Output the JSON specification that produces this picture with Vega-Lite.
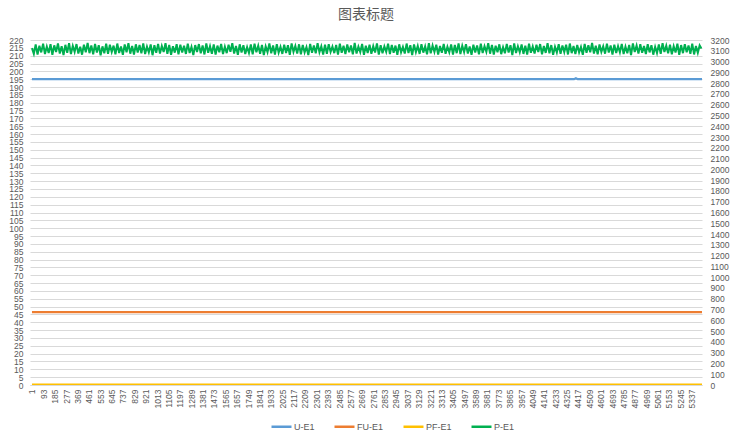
{
  "$schema": "https://vega.github.io/schema/vega-lite/v6.json",
  "width": 672,
  "height": 345,
  "autosize": {"type": "none"},
  "padding": {"left": 30, "top": 40, "right": 46, "bottom": 55},
  "background": "white",
  "title": {"text": "图表标题", "fontSize": 14, "font": "Noto Sans CJK SC", "fontWeight": "normal", "color": "#595959", "offset": 14},
  "config": {"view": {"stroke": null}, "font": "Liberation Sans"},
  "encoding": {
    "x": {"field": "i", "type": "quantitative", "scale": {"domain": [-15, 5420], "nice": false, "zero": false},
      "axis": {"values": [1,93,185,277,369,461,553,645,737,829,921,1013,1105,1197,1289,1381,1473,1565,1657,1749,1841,1933,2025,2117,2209,2301,2393,2485,2577,2669,2761,2853,2945,3037,3129,3221,3313,3405,3497,3589,3681,3773,3865,3957,4049,4141,4233,4325,4417,4509,4601,4693,4785,4877,4969,5061,5153,5245,5337], "title": null, "grid": false, "labelAngle": 270, "labelFontSize": 8.5, "labelColor": "#595959", "labelOverlap": false, "labelFlush": false, "labelPadding": 4, "ticks": false, "domainColor": "#d9d9d9", "format": "d"}}
  },
  "layer": [
    {
      "data": {"values": [
        {"i": 1, "U-E1": 195, "FU-E1": 46.5, "PF-E1": 0.3},
        {"i": 4385, "U-E1": 195, "FU-E1": 46.5, "PF-E1": 0.3},
        {"i": 4400, "U-E1": 195.6, "FU-E1": 46.5, "PF-E1": 0.3},
        {"i": 4415, "U-E1": 195, "FU-E1": 46.5, "PF-E1": 0.3},
        {"i": 5420, "U-E1": 195, "FU-E1": 46.5, "PF-E1": 0.3}
      ]},
      "transform": [{"fold": ["U-E1", "FU-E1", "PF-E1"]}],
      "mark": {"type": "line", "strokeWidth": 2.2, "clip": true},
      "encoding": {
        "y": {"field": "value", "type": "quantitative", "scale": {"domain": [0, 220], "nice": false},
          "axis": {"values": [0,5,10,15,20,25,30,35,40,45,50,55,60,65,70,75,80,85,90,95,100,105,110,115,120,125,130,135,140,145,150,155,160,165,170,175,180,185,190,195,200,205,210,215,220], "title": null, "domain": false, "ticks": false, "labelFontSize": 8.5, "labelColor": "#595959", "labelPadding": 7, "labelOverlap": false, "gridColor": "#d9d9d9", "labelFlush": false}},
        "color": {"field": "key", "type": "nominal",
          "scale": {"domain": ["U-E1", "FU-E1", "PF-E1", "P-E1"], "range": ["#5B9BD5", "#ED7D31", "#FFC000", "#00B050"]},
          "legend": {"title": null, "orient": "none", "legendX": 240, "legendY": 375, "direction": "horizontal", "columns": 4, "symbolType": "stroke", "symbolSize": 400, "symbolStrokeWidth": 2.5, "labelFontSize": 9, "labelColor": "#595959", "columnPadding": 14, "labelOffset": 1}}
      }
    },
    {
      "data": {"values": [
{"i":1,"P":3125},{"i":16,"P":3072},{"i":31,"P":3158},{"i":46,"P":3066},{"i":61,"P":3147},{"i":76,"P":3085},{"i":91,"P":3166},{"i":106,"P":3070},{"i":121,"P":3139},{"i":136,"P":3079},
{"i":151,"P":3161},{"i":166,"P":3063},{"i":181,"P":3150},{"i":196,"P":3088},{"i":211,"P":3168},{"i":226,"P":3075},{"i":241,"P":3143},{"i":256,"P":3060},{"i":271,"P":3155},{"i":286,"P":3082},
{"i":301,"P":3170},{"i":316,"P":3069},{"i":331,"P":3146},{"i":346,"P":3090},{"i":361,"P":3162},{"i":376,"P":3074},{"i":391,"P":3137},{"i":406,"P":3064},{"i":421,"P":3157},{"i":436,"P":3086},
{"i":451,"P":3172},{"i":466,"P":3078},{"i":481,"P":3149},{"i":496,"P":3067},{"i":511,"P":3163},{"i":526,"P":3083},{"i":541,"P":3152},{"i":556,"P":3058},{"i":571,"P":3141},{"i":586,"P":3076},
{"i":601,"P":3165},{"i":616,"P":3071},{"i":631,"P":3156},{"i":646,"P":3089},{"i":661,"P":3148},{"i":676,"P":3068},{"i":691,"P":3167},{"i":706,"P":3080},{"i":721,"P":3140},{"i":736,"P":3062},
{"i":751,"P":3159},{"i":766,"P":3087},{"i":781,"P":3171},{"i":796,"P":3073},{"i":811,"P":3145},{"i":826,"P":3065},{"i":841,"P":3160},{"i":856,"P":3084},{"i":871,"P":3153},{"i":886,"P":3077},
{"i":901,"P":3169},{"i":916,"P":3070},{"i":931,"P":3138},{"i":946,"P":3086},{"i":961,"P":3158},{"i":976,"P":3059},{"i":991,"P":3151},{"i":1006,"P":3081},{"i":1021,"P":3164},{"i":1036,"P":3074},
{"i":1051,"P":3144},{"i":1066,"P":3088},{"i":1081,"P":3170},{"i":1096,"P":3072},{"i":1111,"P":3154},{"i":1126,"P":3063},{"i":1141,"P":3142},{"i":1156,"P":3083},{"i":1171,"P":3161},{"i":1186,"P":3068},
{"i":1201,"P":3157},{"i":1216,"P":3085},{"i":1231,"P":3147},{"i":1246,"P":3071},{"i":1261,"P":3166},{"i":1276,"P":3079},{"i":1291,"P":3136},{"i":1306,"P":3061},{"i":1321,"P":3153},{"i":1336,"P":3089},
{"i":1351,"P":3162},{"i":1366,"P":3076},{"i":1381,"P":3150},{"i":1396,"P":3066},{"i":1411,"P":3168},{"i":1426,"P":3082},{"i":1441,"P":3143},{"i":1456,"P":3073},{"i":1471,"P":3159},{"i":1486,"P":3064},
{"i":1501,"P":3148},{"i":1516,"P":3087},{"i":1531,"P":3163},{"i":1546,"P":3069},{"i":1561,"P":3139},{"i":1576,"P":3078},{"i":1591,"P":3156},{"i":1606,"P":3090},{"i":1621,"P":3171},{"i":1636,"P":3075},
{"i":1651,"P":3145},{"i":1666,"P":3062},{"i":1681,"P":3160},{"i":1696,"P":3084},{"i":1711,"P":3152},{"i":1726,"P":3070},{"i":1741,"P":3134},{"i":1756,"P":3080},{"i":1771,"P":3158},{"i":1786,"P":3067},
{"i":1801,"P":3165},{"i":1816,"P":3086},{"i":1831,"P":3146},{"i":1846,"P":3073},{"i":1861,"P":3155},{"i":1876,"P":3060},{"i":1891,"P":3141},{"i":1906,"P":3088},{"i":1921,"P":3167},{"i":1936,"P":3077},
{"i":1951,"P":3149},{"i":1966,"P":3065},{"i":1981,"P":3162},{"i":1996,"P":3083},{"i":2011,"P":3137},{"i":2026,"P":3071},{"i":2041,"P":3157},{"i":2056,"P":3079},{"i":2071,"P":3151},{"i":2086,"P":3063},
{"i":2101,"P":3168},{"i":2116,"P":3090},{"i":2131,"P":3144},{"i":2146,"P":3074},{"i":2161,"P":3160},{"i":2176,"P":3068},{"i":2191,"P":3153},{"i":2206,"P":3085},{"i":2221,"P":3135},{"i":2236,"P":3061},
{"i":2251,"P":3164},{"i":2266,"P":3081},{"i":2281,"P":3148},{"i":2296,"P":3076},{"i":2311,"P":3170},{"i":2326,"P":3087},{"i":2341,"P":3142},{"i":2356,"P":3066},{"i":2371,"P":3156},{"i":2386,"P":3072},
{"i":2401,"P":3161},{"i":2416,"P":3089},{"i":2431,"P":3139},{"i":2446,"P":3078},{"i":2461,"P":3154},{"i":2476,"P":3064},{"i":2491,"P":3166},{"i":2506,"P":3082},{"i":2521,"P":3146},{"i":2536,"P":3070},
{"i":2551,"P":3159},{"i":2566,"P":3086},{"i":2581,"P":3150},{"i":2596,"P":3067},{"i":2611,"P":3172},{"i":2626,"P":3075},{"i":2641,"P":3138},{"i":2656,"P":3088},{"i":2671,"P":3163},{"i":2686,"P":3062},
{"i":2701,"P":3147},{"i":2716,"P":3080},{"i":2731,"P":3157},{"i":2746,"P":3073},{"i":2761,"P":3143},{"i":2776,"P":3084},{"i":2791,"P":3169},{"i":2806,"P":3065},{"i":2821,"P":3152},{"i":2836,"P":3077},
{"i":2851,"P":3140},{"i":2866,"P":3090},{"i":2881,"P":3165},{"i":2896,"P":3069},{"i":2911,"P":3155},{"i":2926,"P":3081},{"i":2941,"P":3148},{"i":2956,"P":3063},{"i":2971,"P":3160},{"i":2986,"P":3086},
{"i":3001,"P":3136},{"i":3016,"P":3074},{"i":3031,"P":3167},{"i":3046,"P":3079},{"i":3061,"P":3151},{"i":3076,"P":3060},{"i":3091,"P":3158},{"i":3106,"P":3087},{"i":3121,"P":3145},{"i":3136,"P":3071},
{"i":3151,"P":3162},{"i":3166,"P":3083},{"i":3181,"P":3141},{"i":3196,"P":3068},{"i":3211,"P":3170},{"i":3226,"P":3076},{"i":3241,"P":3149},{"i":3256,"P":3089},{"i":3271,"P":3156},{"i":3286,"P":3064},
{"i":3301,"P":3144},{"i":3316,"P":3082},{"i":3331,"P":3164},{"i":3346,"P":3072},{"i":3361,"P":3137},{"i":3376,"P":3085},{"i":3391,"P":3159},{"i":3406,"P":3066},{"i":3421,"P":3153},{"i":3436,"P":3078},
{"i":3451,"P":3168},{"i":3466,"P":3070},{"i":3481,"P":3146},{"i":3496,"P":3088},{"i":3511,"P":3161},{"i":3526,"P":3075},{"i":3541,"P":3139},{"i":3556,"P":3062},{"i":3571,"P":3157},{"i":3586,"P":3084},
{"i":3601,"P":3150},{"i":3616,"P":3067},{"i":3631,"P":3166},{"i":3646,"P":3080},{"i":3661,"P":3143},{"i":3676,"P":3090},{"i":3691,"P":3171},{"i":3706,"P":3073},{"i":3721,"P":3155},{"i":3736,"P":3065},
{"i":3751,"P":3147},{"i":3766,"P":3086},{"i":3781,"P":3160},{"i":3796,"P":3069},{"i":3811,"P":3134},{"i":3826,"P":3077},{"i":3841,"P":3163},{"i":3856,"P":3083},{"i":3871,"P":3152},{"i":3886,"P":3061},
{"i":3901,"P":3169},{"i":3916,"P":3079},{"i":3931,"P":3142},{"i":3946,"P":3087},{"i":3961,"P":3158},{"i":3976,"P":3071},{"i":3991,"P":3148},{"i":4006,"P":3064},{"i":4021,"P":3165},{"i":4036,"P":3082},
{"i":4051,"P":3140},{"i":4066,"P":3074},{"i":4081,"P":3156},{"i":4096,"P":3089},{"i":4111,"P":3162},{"i":4126,"P":3068},{"i":4141,"P":3145},{"i":4156,"P":3080},{"i":4171,"P":3170},{"i":4186,"P":3076},
{"i":4201,"P":3153},{"i":4216,"P":3063},{"i":4231,"P":3138},{"i":4246,"P":3085},{"i":4261,"P":3161},{"i":4276,"P":3072},{"i":4291,"P":3149},{"i":4306,"P":3088},{"i":4321,"P":3157},{"i":4336,"P":3066},
{"i":4351,"P":3167},{"i":4366,"P":3078},{"i":4381,"P":3144},{"i":4396,"P":3070},{"i":4411,"P":3154},{"i":4426,"P":3084},{"i":4441,"P":3136},{"i":4456,"P":3062},{"i":4471,"P":3163},{"i":4486,"P":3081},
{"i":4501,"P":3151},{"i":4516,"P":3087},{"i":4531,"P":3172},{"i":4546,"P":3075},{"i":4561,"P":3146},{"i":4576,"P":3067},{"i":4591,"P":3159},{"i":4606,"P":3090},{"i":4621,"P":3141},{"i":4636,"P":3073},
{"i":4651,"P":3166},{"i":4666,"P":3083},{"i":4681,"P":3150},{"i":4696,"P":3065},{"i":4711,"P":3157},{"i":4726,"P":3079},{"i":4741,"P":3143},{"i":4756,"P":3086},{"i":4771,"P":3164},{"i":4786,"P":3069},
{"i":4801,"P":3139},{"i":4816,"P":3077},{"i":4831,"P":3155},{"i":4846,"P":3061},{"i":4861,"P":3168},{"i":4876,"P":3088},{"i":4891,"P":3148},{"i":4906,"P":3074},{"i":4921,"P":3160},{"i":4936,"P":3082},
{"i":4951,"P":3145},{"i":4966,"P":3070},{"i":4981,"P":3162},{"i":4996,"P":3085},{"i":5011,"P":3152},{"i":5026,"P":3064},{"i":5041,"P":3137},{"i":5056,"P":3080},{"i":5071,"P":3158},{"i":5086,"P":3071},
{"i":5101,"P":3170},{"i":5116,"P":3089},{"i":5131,"P":3147},{"i":5146,"P":3076},{"i":5161,"P":3156},{"i":5176,"P":3068},{"i":5191,"P":3142},{"i":5206,"P":3084},{"i":5221,"P":3165},{"i":5236,"P":3063},
{"i":5251,"P":3153},{"i":5266,"P":3078},{"i":5281,"P":3161},{"i":5296,"P":3087},{"i":5311,"P":3149},{"i":5326,"P":3072},{"i":5341,"P":3167},{"i":5356,"P":3066},{"i":5371,"P":3144},{"i":5386,"P":3081},
{"i":5401,"P":3150},{"i":5416,"P":3120}
      ]},
      "mark": {"type": "line", "strokeWidth": 2, "clip": true},
      "encoding": {
        "y": {"field": "P", "type": "quantitative", "scale": {"domain": [0, 3200], "nice": false},
          "axis": {"orient": "right", "values": [0,100,200,300,400,500,600,700,800,900,1000,1100,1200,1300,1400,1500,1600,1700,1800,1900,2000,2100,2200,2300,2400,2500,2600,2700,2800,2900,3000,3100,3200], "format": "d", "title": null, "grid": false, "domain": false, "ticks": false, "labelFontSize": 8.5, "labelColor": "#595959", "labelPadding": 8, "labelOverlap": false, "labelFlush": false}},
        "color": {"datum": "P-E1", "type": "nominal"}
      }
    }
  ],
  "resolve": {"scale": {"y": "independent"}}
}
